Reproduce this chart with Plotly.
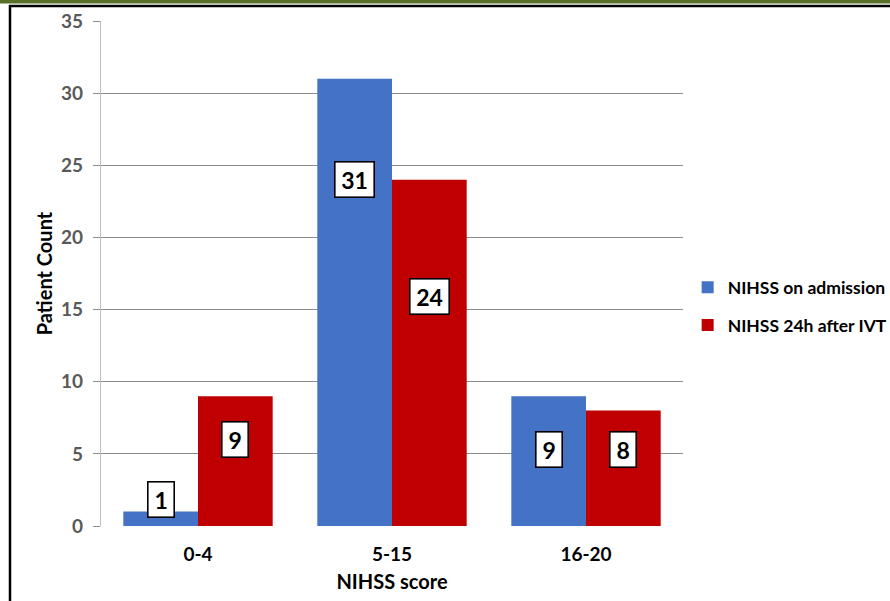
import plotly.graph_objects as go

categories = ["0-4", "5-15", "16-20"]
admission = [1, 31, 9]
after_ivt = [9, 24, 8]
series_names = ["NIHSS on admission", "NIHSS 24h after IVT"]
# vertical placement of the boxed value labels (data units)
label_y_admission = [1.85, 24.0, 5.3]
label_y_after = [6.0, 15.9, 5.3]
y_ticks = [0, 5, 10, 15, 20, 25, 30, 35]

W, H = 890, 601
ML, MR, MT, MB = 101, 207, 21, 75
BARGAP = 0.23
BLUE = "#4472C4"
RED = "#C00000"
FONT = "Lato"

pw = W - ML - MR
ph = H - MT - MB


def px_x(px):
    return (px - ML) / pw


def px_y(py):
    return (H - MB - py) / ph


xs = list(range(len(categories)))
fig = go.Figure()
fig.add_trace(go.Bar(x=xs, y=admission, name=series_names[0], marker_color=BLUE,
                     marker_line_width=0, legendgroup="a"))
fig.add_trace(go.Bar(x=xs, y=after_ivt, name=series_names[1], marker_color=RED,
                     marker_line_width=0, legendgroup="b"))

off = (1 - BARGAP) / 4
annotations = []
for i in xs:
    for val, ly, dx in ((admission[i], label_y_admission[i], -off),
                        (after_ivt[i], label_y_after[i], off)):
        annotations.append(dict(
            x=i + dx, y=ly, xref="x", yref="y", text=str(val), showarrow=False,
            font=dict(family=FONT, size=23, color="black", weight="bold"),
            bgcolor="white", bordercolor="black", borderwidth=1.6,
            width=10 + 13 * len(str(val)), height=32, borderpad=1,
        ))

shapes = [
    dict(type="rect", xref="paper", yref="paper", x0=px_x(0), x1=px_x(W),
         y0=px_y(3.5), y1=px_y(-2), fillcolor="#5A6E2C", line_width=0, layer="above"),
    dict(type="line", xref="paper", yref="paper", x0=px_x(9), x1=px_x(W),
         y0=px_y(6), y1=px_y(6), line=dict(color="black", width=2.5), layer="above"),
    dict(type="line", xref="paper", yref="paper", x0=px_x(10), x1=px_x(10),
         y0=px_y(5), y1=px_y(H + 2), line=dict(color="black", width=2.5), layer="above"),
]

fig.update_layout(
    width=W, height=H,
    margin=dict(l=ML, r=MR, t=MT, b=MB, autoexpand=False),
    paper_bgcolor="white", plot_bgcolor="white",
    barmode="group", bargap=BARGAP, bargroupgap=0,
    font=dict(family=FONT, color="black"),
    annotations=annotations,
    shapes=shapes,
    legend=dict(x=1.008, y=0.435, xanchor="left", yanchor="middle",
                font=dict(family=FONT, size=17.5, color="black", weight="bold"),
                tracegroupgap=12, itemwidth=30, bgcolor="rgba(0,0,0,0)"),
    showlegend=True,
)
fig.update_xaxes(
    tickmode="array", tickvals=xs, ticktext=categories, range=[-0.5, 2.5],
    showgrid=False, showline=False, zeroline=False,
    ticks="outside", ticklen=11, tickcolor="rgba(0,0,0,0)",
    tickfont=dict(family=FONT, size=19, color="black", weight="bold"),
    title=dict(text="NIHSS score", font=dict(family=FONT, size=20, color="black", weight="bold"),
               standoff=11),
)
fig.update_yaxes(
    range=[0, 35], tickvals=y_ticks, showgrid=True, gridcolor="#8c8c8c", gridwidth=1.3,
    showline=True, linecolor="#bfbfbf", linewidth=1.3, zeroline=False,
    ticks="outside", ticklen=7, tickcolor="#8c8c8c", tickwidth=1.3,
    ticklabelstandoff=6,
    tickfont=dict(family=FONT, size=19, color="#595959", weight="bold"),
    title=dict(text="Patient Count", font=dict(family=FONT, size=20, color="black", weight="bold"),
               standoff=3),
)

fig.write_html("out.html")
